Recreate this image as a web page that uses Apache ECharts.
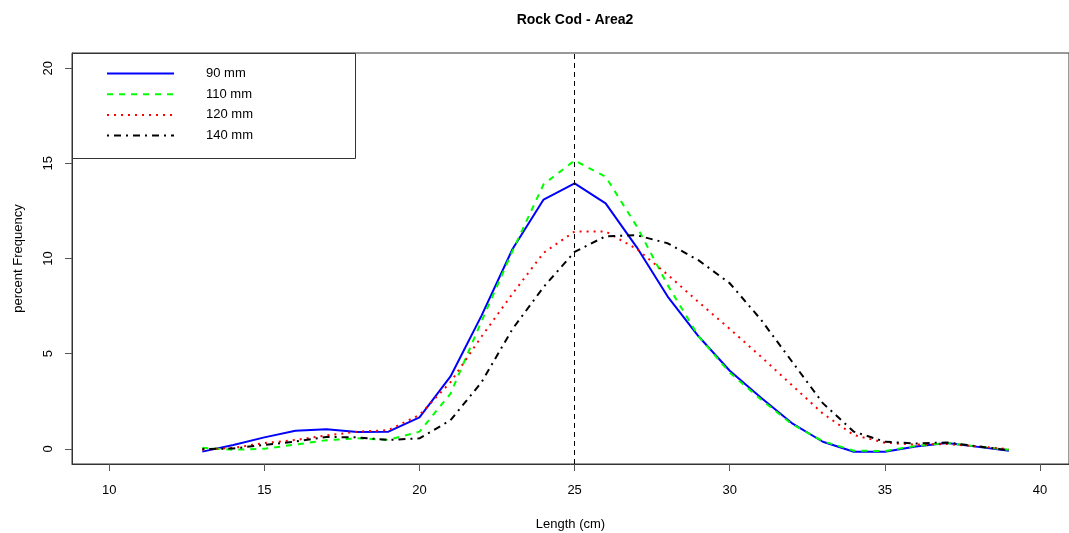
<!DOCTYPE html>
<html>
<head>
<meta charset="utf-8">
<script src="https://cdn.jsdelivr.net/npm/echarts@6/dist/echarts.min.js"></script>
<style>
html,body{margin:0;padding:0;background:#fff;}
#chart{width:1069px;height:533px;}
</style>
</head>
<body>
<div id="chart"></div>
<script>
const lengths = [13,14,15,16,17,18,19,20,21,22,23,24,25,26,27,28,29,30,31,32,33,34,35,36,37,38,39];
const s90  = [-0.15,0.2,0.6,0.95,1.02,0.88,0.9,1.65,3.8,7.0,10.5,13.1,13.95,12.9,10.6,8.0,5.9,4.1,2.7,1.35,0.37,-0.16,-0.16,0.12,0.3,0.1,-0.1];
const s110 = [0.05,-0.05,0.0,0.22,0.45,0.55,0.47,0.9,2.9,6.7,10.4,13.9,15.15,14.3,11.7,8.6,5.9,4.0,2.6,1.3,0.4,-0.1,-0.12,0.15,0.3,0.12,-0.05];
const s120 = [-0.05,0.05,0.3,0.46,0.7,0.9,0.98,1.78,3.5,5.9,8.15,10.3,11.42,11.42,10.5,9.15,7.7,6.3,4.85,3.35,1.85,0.72,0.32,0.22,0.25,0.12,-0.02];
const s140 = [-0.02,0.02,0.2,0.38,0.62,0.6,0.46,0.55,1.5,3.5,6.3,8.5,10.35,11.17,11.22,10.8,9.9,8.7,6.8,4.6,2.4,0.9,0.37,0.28,0.33,0.13,-0.08];
const seriesNames = ['90 mm','110 mm','120 mm','140 mm'];
const xTicks = [10,15,20,25,30,35,40];
const yTicks = [0,5,10,15,20];
const refLine = 25;

const FONT = '"Liberation Sans", Arial, sans-serif';
const pair = arr => lengths.map((x,i)=>[x,arr[i]]);
const styles = [
  {color:'#0000FF', type:'solid'},
  {color:'#00FF00', type:[6,6]},
  {color:'#FF0000', type:[2,5]},
  {color:'#000000', type:[2,5,7,5]}
];
const datas = [s90,s110,s120,s140];

const series = datas.map((d,i)=>({
  name: seriesNames[i],
  type:'line',
  data: pair(d),
  symbol:'none',
  showSymbol:false,
  animation:false,
  z: 3,
  lineStyle:{color:styles[i].color, width:2, type:styles[i].type},
  itemStyle:{color:styles[i].color}
}));
series[0].markLine = {
  silent:true,
  symbol:['none','none'],
  label:{show:false},
  animation:false,
  lineStyle:{color:'#000', width:1, type:[5,4]},
  data:[{xAxis: refLine}]
};

const chart = echarts.init(document.getElementById('chart'), null, {renderer:'canvas'});
chart.setOption({
  backgroundColor:'#fff',
  animation:false,
  textStyle:{fontFamily:FONT},
  title:{
    text:'Rock Cod - Area2',
    left:570, top:8, textAlign:'center',
    textStyle:{fontFamily:FONT, fontSize:14, fontWeight:'bold', color:'#000'}
  },
  grid:{left:72, right:0, top:53, bottom:69, containLabel:false, outerBoundsMode:'none',
        show:true, borderColor:'#333', borderWidth:1, backgroundColor:'transparent'},
  graphic:[{
    type:'rect', z:1, silent:true,
    shape:{x:72.5, y:53.5, width:283, height:105},
    style:{fill:'#fff', stroke:'#333', lineWidth:1}
  }],
  legend:{
    orient:'vertical',
    left:106, top:67,
    padding:0,
    itemWidth:67, itemHeight:14, itemGap:7.7,
    z:10,
    data:seriesNames,
    itemStyle:{opacity:0, borderWidth:0},
    textStyle:{fontFamily:FONT, fontSize:13, color:'#000', padding:[0,0,0,27]}
  },
  xAxis:{
    type:'value', min:8.8, max:40.935,
    name:'Length (cm)', nameLocation:'middle', nameGap:54,
    nameTextStyle:{fontFamily:FONT, fontSize:13, color:'#000'},
    axisLine:{show:true, onZero:false, lineStyle:{color:'#333', width:1}},
    axisTick:{show:true, length:7, lineStyle:{color:'#555'}, customValues:xTicks},
    axisLabel:{show:true, margin:20, fontSize:13, color:'#000', fontFamily:FONT, customValues:xTicks},
    splitLine:{show:false}
  },
  yAxis:{
    type:'value', min:-0.8, max:20.8,
    name:'percent Frequency', nameLocation:'middle', nameGap:47,
    nameTextStyle:{fontFamily:FONT, fontSize:13, color:'#000'},
    axisLine:{show:true, onZero:false, lineStyle:{color:'#333', width:1}},
    axisTick:{show:true, length:7, lineStyle:{color:'#555'}, customValues:yTicks},
    axisLabel:{show:true, rotate:90, margin:17, fontSize:13, color:'#000', fontFamily:FONT, customValues:yTicks},
    splitLine:{show:false}
  },
  series: series
});
</script>
</body>
</html>
